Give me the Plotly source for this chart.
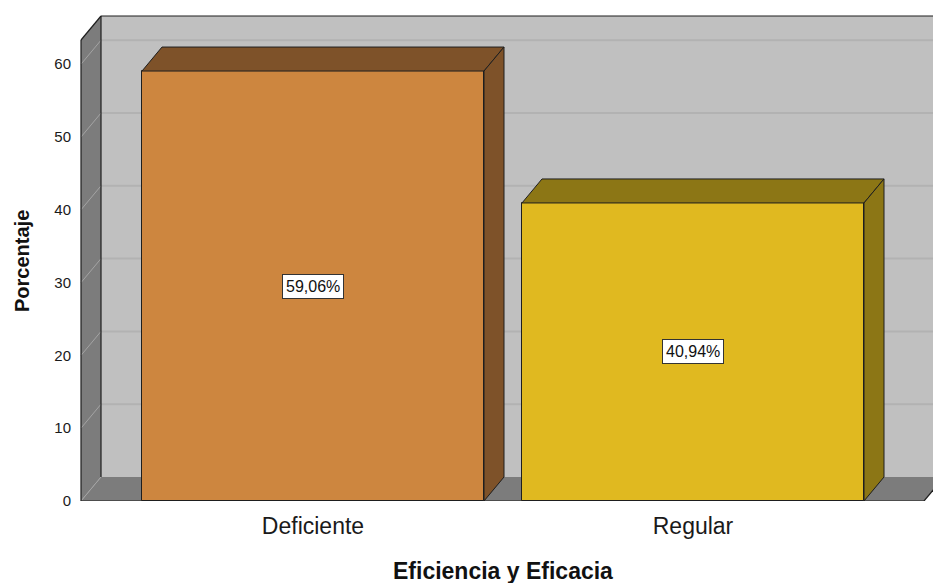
import plotly.graph_objects as go

# ---- data ----
categories = ["Deficiente", "Regular"]
percentages = [59.06, 40.94]
y_ticks = [0, 10, 20, 30, 40, 50, 60]

# ---- styling ----
front_colors = ["#CD863F", "#E0B920"]
shade_colors = ["#7E5229", "#8C7615"]
BACK_WALL = "#C0C0C0"
SIDE_WALL = "#7C7C7C"
GRID_BACK = "#B2B2B2"
GRID_SIDE = "#A4A4A4"
EDGE = "#1E1E1E"
FONT = "Liberation Sans, Arial, sans-serif"

W, H = 933, 583
ML, MR, MT, MB = 78, 0, 13, 82
PX_CAT = 380.0       # pixels per category step
PX_UNIT = 7.28       # pixels per percent
CAT0_PX = 313.0      # pixel x of first category centre
plot_w = W - ML - MR
plot_h = H - MT - MB

X_LO = -(CAT0_PX - ML) / PX_CAT
X_HI = X_LO + plot_w / PX_CAT
Y_HI = plot_h / PX_UNIT

DX = 20 / PX_CAT     # depth offset, horizontal
DY = 24 / PX_UNIT    # depth offset, vertical
BAR_W = 0.9
X0 = (81 - CAT0_PX) / PX_CAT       # front-left edge of the box
XF = (924 - CAT0_PX) / PX_CAT      # front-right edge of the floor
Y_TOP = (501 - 16) / PX_UNIT       # top of the back wall
FAR = X_HI + 1

fig = go.Figure()

# front faces of the bars
fig.add_trace(go.Bar(
    x=list(range(len(categories))), y=percentages, width=BAR_W,
    marker=dict(color=front_colors, line=dict(color=EDGE, width=1)),
    hoverinfo="skip", showlegend=False,
))

# top and side faces giving the bars depth
for i, v in enumerate(percentages):
    l, r = i - BAR_W / 2, i + BAR_W / 2
    fig.add_trace(go.Scatter(
        x=[l, l + DX, r + DX, r, l], y=[v, v + DY, v + DY, v, v],
        mode="lines", fill="toself", fillcolor=shade_colors[i],
        line=dict(color=EDGE, width=1), hoverinfo="skip", showlegend=False,
    ))
    fig.add_trace(go.Scatter(
        x=[r, r + DX, r + DX, r, r], y=[0, DY, v + DY, v, 0],
        mode="lines", fill="toself", fillcolor=shade_colors[i],
        line=dict(color=EDGE, width=1), hoverinfo="skip", showlegend=False,
    ))

shapes = []
# back wall
shapes.append(dict(type="rect", xref="x", yref="y", x0=X0 + DX, x1=FAR, y0=DY, y1=Y_TOP,
                   fillcolor=BACK_WALL, line=dict(width=0), layer="below"))
# left wall
shapes.append(dict(type="path", xref="x", yref="y",
                   path=f"M {X0} 0 L {X0 + DX} {DY} L {X0 + DX} {Y_TOP} L {X0} {Y_TOP - DY} Z",
                   fillcolor=SIDE_WALL, line=dict(width=0), layer="below"))
# floor
shapes.append(dict(type="path", xref="x", yref="y",
                   path=f"M {X0} 0 L {XF} 0 L {XF + DX} {DY} L {FAR} {DY} L {X0 + DX} {DY} Z",
                   fillcolor=SIDE_WALL, line=dict(width=0), layer="below"))
# grid lines on back and left walls
for t in y_ticks[1:]:
    shapes.append(dict(type="line", xref="x", yref="y", x0=X0 + DX, x1=FAR, y0=t + DY, y1=t + DY,
                       line=dict(color=GRID_BACK, width=2), layer="below"))
for t in y_ticks:
    shapes.append(dict(type="line", xref="x", yref="y", x0=X0, x1=X0 + DX, y0=t, y1=t + DY,
                       line=dict(color=GRID_SIDE, width=1), layer="below"))
# box outline
edges = [
    (X0, 0, X0, Y_TOP - DY),
    (X0, Y_TOP - DY, X0 + DX, Y_TOP),
    (X0 + DX, Y_TOP, FAR, Y_TOP),
    (X0 + DX, DY, X0 + DX, Y_TOP),
    (X0, 0, XF, 0),
    (XF, 0, XF + DX, DY),
]
for ax0, ay0, ax1, ay1 in edges:
    shapes.append(dict(type="line", xref="x", yref="y", x0=ax0, y0=ay0, x1=ax1, y1=ay1,
                       line=dict(color=EDGE, width=1.2), layer="below"))

annotations = []
for i, v in enumerate(percentages):
    annotations.append(dict(
        x=i, y=v / 2, xref="x", yref="y", showarrow=False,
        text=f"{v:.2f}".replace(".", ",") + "%",
        font=dict(family=FONT, size=16, color="#111"),
        bgcolor="white", bordercolor="#333", borderwidth=1, borderpad=3,
    ))


def px_to_paper(px, py):
    return (px - ML) / plot_w, (H - MB - py) / plot_h


tx, ty = px_to_paper(503, 571)
annotations.append(dict(x=tx, y=ty, xref="paper", yref="paper", showarrow=False,
                        text="<b>Eficiencia y Eficacia</b>",
                        font=dict(family=FONT, size=23, color="#111"),
                        xanchor="center", yanchor="middle"))
tx, ty = px_to_paper(22, 261)
annotations.append(dict(x=tx, y=ty, xref="paper", yref="paper", showarrow=False,
                        text="<b>Porcentaje</b>", textangle=-90,
                        font=dict(family=FONT, size=20, color="#111"),
                        xanchor="center", yanchor="middle"))

fig.update_layout(
    width=W, height=H,
    margin=dict(l=ML, r=MR, t=MT, b=MB, pad=0),
    paper_bgcolor="white", plot_bgcolor="white",
    shapes=shapes, annotations=annotations,
    bargap=0, showlegend=False,
    xaxis=dict(range=[X_LO, X_HI], tickvals=list(range(len(categories))), ticktext=categories,
               tickfont=dict(family=FONT, size=23, color="#1a1a1a"),
               ticks="outside", ticklen=4, tickcolor="rgba(0,0,0,0)",
               showgrid=False, zeroline=False, showline=False, fixedrange=True),
    yaxis=dict(range=[0, Y_HI], tickvals=y_ticks, ticktext=[str(t) for t in y_ticks],
               tickfont=dict(family=FONT, size=15, color="#1a1a1a"),
               ticks="outside", ticklen=3, tickcolor="rgba(0,0,0,0)",
               showgrid=False, zeroline=False, showline=False, fixedrange=True),
)

fig.write_html("out.html")
